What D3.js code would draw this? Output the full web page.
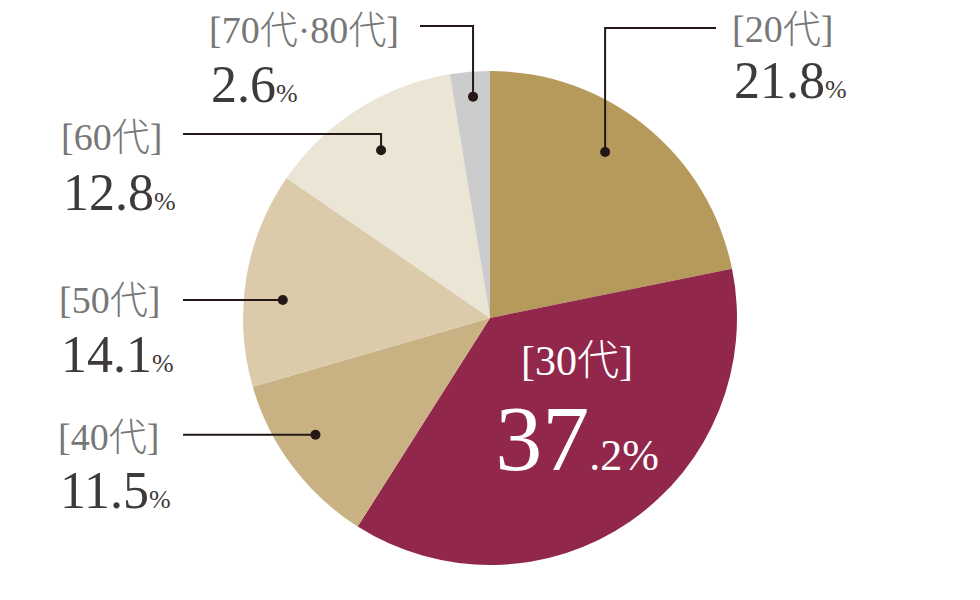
<!DOCTYPE html>
<html>
<head>
<meta charset="utf-8">
<script src="https://cdn.jsdelivr.net/npm/d3@7"></script>
<style>
  body { margin: 0; background: #fff; }
  svg { display: block; }
</style>
</head>
<body>
<script>
const ages = ['20代', '30代', '40代', '50代', '60代', '70代·80代']
const shares = [21.8, 37.2, 11.5, 14.1, 12.8, 2.6]
const sliceColors = ['#b59a5b', '#92274c', '#c8b283', '#dbcbaa', '#ebe5d6', '#cdcccc']

const serif = '"Liberation Serif", "Times New Roman", "Noto Sans CJK JP", serif'
const cx = 490, cy = 318, radius = 247

// callout placement for the slices that are labelled outside
const callouts = [
  { i: 0, dotR: 202, nudge: -4.5, lineY: 28, lineEnd: 716, x: 732, labelY: 42, valueY: 98 },
  { i: 2, dotR: 210, nudge: 3.1, lineY: null, lineEnd: 183, x: 58, labelY: 450, valueY: 508 },
  { i: 3, dotR: 208, nudge: -4.2, lineY: null, lineEnd: 183, x: 59, labelY: 313, valueY: 372 },
  { i: 4, dotR: 200, nudge: -0.6, lineY: 134, lineEnd: 183, x: 61, labelY: 150, valueY: 210 },
  { i: 5, dotR: 222, nudge: 0.3, lineY: 26, lineEnd: 420, x: 209, labelY: 43, valueY: 102 }
]

function drawChart() {
  var svg = d3.select('body')
    .append('svg')
    .attr('width', 980)
    .attr('height', 600)

  var pie = d3.pie().sort(null).value(function(d) { return d })
  var arcs = pie(shares)
  var arc = d3.arc().innerRadius(0).outerRadius(radius)

  var g = svg.append('g').attr('transform', 'translate(' + cx + ',' + cy + ')')

  g.selectAll('path')
    .data(arcs)
    .enter()
    .append('path')
    .attr('d', arc)
    .attr('fill', function(d, i) { return sliceColors[i] })

  callouts.forEach(function(c) {
    var a = arcs[c.i]
    var mid = (a.startAngle + a.endAngle) / 2 + c.nudge * Math.PI / 180
    var dx = cx + c.dotR * Math.sin(mid)
    var dy = cy - c.dotR * Math.cos(mid)
    var ly = c.lineY == null ? dy : c.lineY

    svg.append('path')
      .attr('d', 'M' + dx + ',' + dy + 'V' + ly + 'H' + c.lineEnd)
      .attr('fill', 'none')
      .attr('stroke', '#231815')
      .attr('stroke-width', 2)

    svg.append('circle')
      .attr('cx', dx)
      .attr('cy', dy)
      .attr('r', 5)
      .attr('fill', '#231815')

    svg.append('text')
      .attr('x', c.x)
      .attr('y', c.labelY)
      .style('font-family', serif)
      .style('font-size', '38px')
      .style('font-weight', 300)
      .attr('fill', '#777777')
      .text('[' + ages[c.i] + ']')

    var v = svg.append('text')
      .attr('x', c.x + 2)
      .attr('y', c.valueY)
      .style('font-family', serif)
      .attr('fill', '#3e3a39')
    v.append('tspan').style('font-size', '52px').text(shares[c.i].toFixed(1))
    v.append('tspan').style('font-size', '26px').text('%')
  })

  // the big slice carries its label inside
  var big = 1
  var parts = shares[big].toFixed(1).split('.')
  svg.append('text')
    .attr('x', 577)
    .attr('y', 375)
    .attr('text-anchor', 'middle')
    .style('font-family', serif)
    .style('font-size', '42px')
    .style('font-weight', 300)
    .attr('fill', '#fff')
    .text('[' + ages[big] + ']')

  var bv = svg.append('text')
    .attr('x', 577)
    .attr('y', 470)
    .attr('text-anchor', 'middle')
    .style('font-family', serif)
    .attr('fill', '#fff')
  bv.append('tspan').style('font-size', '94px').text(parts[0])
  bv.append('tspan').style('font-size', '44px').text('.' + parts[1] + '%')
}

drawChart()
</script>
</body>
</html>
